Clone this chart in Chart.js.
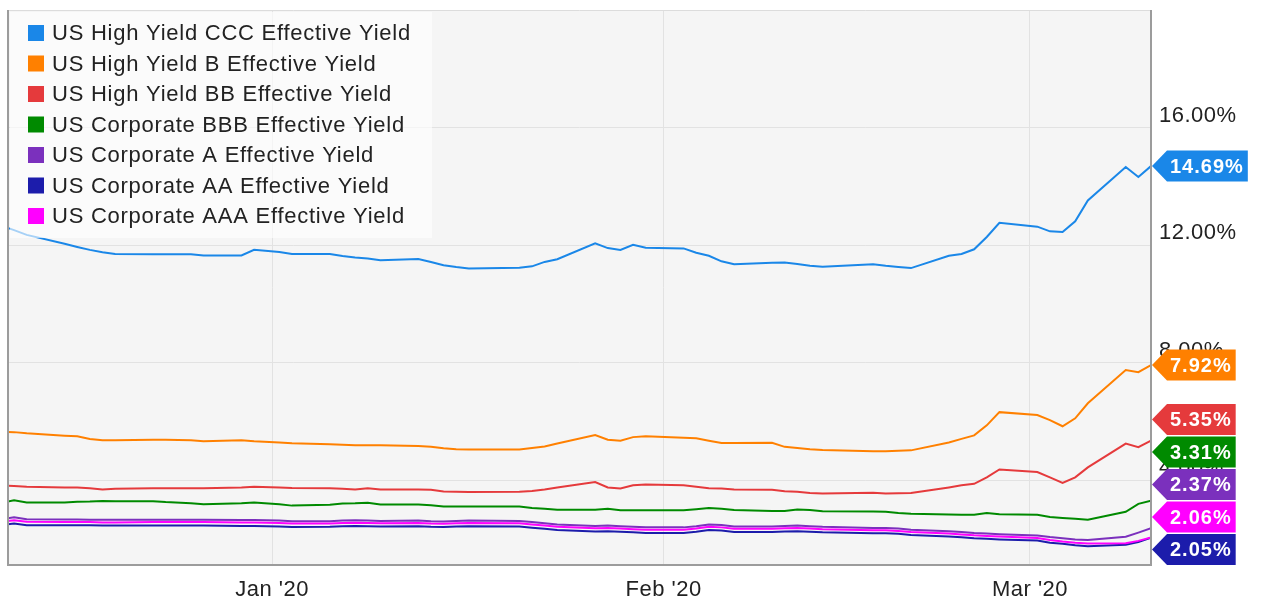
<!DOCTYPE html>
<html>
<head>
<meta charset="utf-8">
<title>US corporate bond effective yields</title>
<script src="https://cdn.jsdelivr.net/npm/chart.js@4.4.1/dist/chart.umd.min.js"></script>
<style>
  html, body { margin: 0; padding: 0; background: #fff; }
  #chart { display: block; }
</style>
</head>
<body>
<canvas id="chart" width="1267" height="615"></canvas>
<script>
// ===== Data =====
const dates = [
  '2019-12-11','2019-12-12','2019-12-13','2019-12-16','2019-12-17','2019-12-18','2019-12-19','2019-12-20',
  '2019-12-23','2019-12-24','2019-12-26','2019-12-27','2019-12-30','2019-12-31',
  '2020-01-02','2020-01-03','2020-01-06','2020-01-07','2020-01-08','2020-01-09','2020-01-10',
  '2020-01-13','2020-01-14','2020-01-15','2020-01-16','2020-01-17','2020-01-21','2020-01-22',
  '2020-01-23','2020-01-24','2020-01-27','2020-01-28','2020-01-29','2020-01-30','2020-01-31',
  '2020-02-03','2020-02-04','2020-02-05','2020-02-06','2020-02-07','2020-02-10','2020-02-11',
  '2020-02-12','2020-02-13','2020-02-14','2020-02-18','2020-02-19','2020-02-20','2020-02-21',
  '2020-02-24','2020-02-25','2020-02-26','2020-02-27','2020-02-28',
  '2020-03-02','2020-03-03','2020-03-04','2020-03-05','2020-03-06','2020-03-09','2020-03-10','2020-03-11'
];

const seriesNames = [
  'US High Yield CCC Effective Yield',
  'US High Yield B Effective Yield',
  'US High Yield BB Effective Yield',
  'US Corporate BBB Effective Yield',
  'US Corporate A Effective Yield',
  'US Corporate AA Effective Yield',
  'US Corporate AAA Effective Yield'
];
const seriesColors = ['#1a87e8', '#ff8000', '#e53a3c', '#008a00', '#7b30bd', '#1c1cab', '#ff00ff'];

const cccYield = [
  12.66, 12.51, 12.35, 12.05, 11.94, 11.84, 11.76, 11.70, 11.69, 11.69, 11.69, 11.65, 11.65, 11.84,
  11.77, 11.70, 11.70, 11.63, 11.58, 11.55, 11.49, 11.53, 11.43, 11.32, 11.26, 11.21, 11.23, 11.28,
  11.43, 11.52, 12.06, 11.90, 11.84, 12.01, 11.91,
  11.89, 11.74, 11.64, 11.45, 11.35, 11.40, 11.41, 11.36, 11.30, 11.27, 11.35, 11.30, 11.26, 11.22,
  11.64, 11.70, 11.86, 12.28, 12.76,
  12.63, 12.47, 12.45, 12.81, 13.52, 14.66, 14.32, 14.69
];
const bYield = [
  5.65, 5.64, 5.60, 5.52, 5.50, 5.41, 5.36, 5.36, 5.38, 5.38, 5.36, 5.33, 5.36, 5.33,
  5.29, 5.26, 5.23, 5.21, 5.19, 5.19, 5.19, 5.17, 5.14, 5.09, 5.06, 5.05, 5.05, 5.10,
  5.15, 5.25, 5.54, 5.38, 5.35, 5.47, 5.50,
  5.45, 5.43, 5.35, 5.27, 5.27, 5.28, 5.14, 5.10, 5.06, 5.03, 4.99, 4.99, 5.01, 5.02,
  5.29, 5.41, 5.53, 5.87, 6.32,
  6.22, 6.05, 5.84, 6.11, 6.62, 7.75, 7.68, 7.92
];
const bbYield = [
  3.83, 3.81, 3.78, 3.76, 3.76, 3.73, 3.69, 3.71, 3.73, 3.73, 3.73, 3.73, 3.76, 3.78,
  3.76, 3.74, 3.73, 3.71, 3.69, 3.73, 3.69, 3.69, 3.68, 3.62, 3.61, 3.60, 3.61, 3.64,
  3.69, 3.76, 3.94, 3.76, 3.72, 3.83, 3.86,
  3.83, 3.78, 3.73, 3.72, 3.69, 3.68, 3.63, 3.61, 3.57, 3.55, 3.58, 3.55, 3.56, 3.57,
  3.76, 3.83, 3.88, 4.10, 4.37,
  4.28, 4.10, 3.91, 4.10, 4.44, 5.25, 5.13, 5.35
];
const bbbYield = [
  3.23, 3.32, 3.25, 3.25, 3.27, 3.28, 3.30, 3.29, 3.29, 3.26, 3.22, 3.19, 3.22, 3.25,
  3.19, 3.14, 3.17, 3.21, 3.22, 3.24, 3.18, 3.18, 3.15, 3.11, 3.11, 3.11, 3.11, 3.06,
  3.03, 3.00, 3.00, 3.03, 2.98, 2.98, 2.98,
  2.98, 3.02, 3.06, 3.03, 2.99, 2.96, 2.96, 3.01, 2.99, 2.95, 2.94, 2.93, 2.89, 2.86,
  2.84, 2.83, 2.83, 2.89, 2.85,
  2.83, 2.75, 2.72, 2.69, 2.66, 2.93, 3.20, 3.31
];
const aYield = [
  2.68, 2.74, 2.68, 2.67, 2.67, 2.66, 2.66, 2.66, 2.66, 2.66, 2.66, 2.66, 2.65, 2.65,
  2.63, 2.61, 2.61, 2.63, 2.64, 2.63, 2.62, 2.63, 2.61, 2.60, 2.62, 2.63, 2.62, 2.58,
  2.54, 2.50, 2.45, 2.46, 2.44, 2.42, 2.40,
  2.40, 2.44, 2.50, 2.48, 2.43, 2.43, 2.45, 2.46, 2.44, 2.42, 2.38, 2.38, 2.36, 2.32,
  2.27, 2.24, 2.21, 2.19, 2.17,
  2.12, 2.07, 2.03, 1.99, 1.97, 2.08, 2.22, 2.37
];
const aaYield = [
  2.48, 2.53, 2.47, 2.47, 2.47, 2.47, 2.46, 2.46, 2.46, 2.46, 2.46, 2.46, 2.45, 2.45,
  2.43, 2.41, 2.42, 2.44, 2.45, 2.44, 2.43, 2.44, 2.42, 2.41, 2.43, 2.44, 2.43, 2.39,
  2.35, 2.31, 2.26, 2.27, 2.25, 2.23, 2.21,
  2.21, 2.25, 2.31, 2.29, 2.24, 2.24, 2.26, 2.27, 2.25, 2.23, 2.20, 2.20, 2.18, 2.14,
  2.09, 2.06, 2.03, 2.01, 1.99,
  1.95, 1.88, 1.84, 1.79, 1.76, 1.81, 1.90, 2.05
];
const aaaYield = [
  2.59, 2.64, 2.59, 2.58, 2.58, 2.58, 2.57, 2.57, 2.58, 2.58, 2.58, 2.58, 2.57, 2.57,
  2.55, 2.53, 2.53, 2.55, 2.56, 2.55, 2.54, 2.55, 2.53, 2.52, 2.54, 2.55, 2.54, 2.50,
  2.46, 2.42, 2.37, 2.38, 2.36, 2.34, 2.32,
  2.32, 2.36, 2.42, 2.40, 2.35, 2.35, 2.37, 2.38, 2.36, 2.34, 2.30, 2.30, 2.28, 2.24,
  2.19, 2.16, 2.13, 2.11, 2.09,
  2.04, 1.97, 1.92, 1.88, 1.85, 1.86, 1.94, 2.06
];

const tickDates  = ['2020-01-01', '2020-02-01', '2020-03-01'];
const tickLabels = ["Jan '20", "Feb '20", "Mar '20"];
const yTicks     = [4, 8, 12, 16];

// ===== Helpers =====
const fontFamily = "'Liberation Sans', Arial, Helvetica, sans-serif";
const origin = Date.UTC(2019, 11, 11);

function dayIndex(s) {
  const [y, m, d] = s.split('-').map(Number);
  return (Date.UTC(y, m - 1, d) - origin) / 86400000;
}

const allSeries = [cccYield, bYield, bbYield, bbbYield, aYield, aaYield, aaaYield];

const datasets = allSeries.map((vals, i) => ({
  label: seriesNames[i],
  data: dates.map((d, j) => ({ x: dayIndex(d), y: vals[j] })),
  borderColor: seriesColors[i],
  backgroundColor: seriesColors[i],
  borderWidth: 2,
  pointRadius: 0,
  tension: 0,
  order: allSeries.length - i
}));

// ===== Plugins =====
const plotFrame = {
  id: 'plotFrame',
  beforeDraw(chart) {
    const { ctx, chartArea: a } = chart;
    ctx.letterSpacing = '0.5px';
    ctx.save();
    ctx.fillStyle = '#f5f5f5';
    ctx.fillRect(a.left, a.top, a.right - a.left, a.bottom - a.top);
    ctx.restore();
  },
  afterDatasetsDraw(chart) {
    const { ctx, chartArea: a } = chart;
    ctx.save();
    ctx.strokeStyle = '#dcdcdc';
    ctx.lineWidth = 1;
    ctx.beginPath();
    ctx.moveTo(a.left, a.top + 0.5);
    ctx.lineTo(a.right, a.top + 0.5);
    ctx.stroke();
    ctx.strokeStyle = '#9c9c9c';
    ctx.lineWidth = 2;
    ctx.beginPath();
    ctx.moveTo(a.left, a.top);
    ctx.lineTo(a.left, a.bottom);
    ctx.lineTo(a.right, a.bottom);
    ctx.lineTo(a.right, a.top);
    ctx.stroke();

    // overlay legend
    ctx.fillStyle = 'rgba(255,255,255,0.62)';
    ctx.fillRect(a.left + 2, a.top + 2, 422, 226);
    ctx.font = `22px ${fontFamily}`;
    ctx.letterSpacing = '0.75px';
    ctx.textBaseline = 'middle';
    ctx.textAlign = 'left';
    chart.data.datasets.forEach((ds, i) => {
      const y = a.top + 23 + i * 30.5;
      ctx.fillStyle = ds.borderColor;
      ctx.fillRect(a.left + 20, y - 8, 16, 16);
      ctx.fillStyle = '#222';
      ctx.fillText(ds.label, a.left + 44, y + 1);
    });
    ctx.restore();
  }
};

const lastValueTags = {
  id: 'lastValueTags',
  afterDraw(chart) {
    const { ctx, chartArea: a, scales: { y } } = chart;
    const h = 31, step = 32.5, arrowW = 15;
    const tags = chart.data.datasets.map(ds => {
      const v = ds.data[ds.data.length - 1].y;
      return { v, y: y.getPixelForValue(v), color: ds.borderColor };
    }).sort((p, q) => p.y - q.y);
    for (let i = 1; i < tags.length; i++) {
      tags[i].y = Math.max(tags[i].y, tags[i - 1].y + step);
    }
    let limit = a.bottom - h / 2;
    for (let i = tags.length - 1; i >= 0; i--) {
      tags[i].y = Math.min(tags[i].y, limit);
      limit = tags[i].y - step;
    }
    ctx.save();
    ctx.font = `bold 20px ${fontFamily}`;
    ctx.letterSpacing = '1px';
    ctx.textBaseline = 'middle';
    ctx.textAlign = 'left';
    tags.forEach(t => {
      const label = t.v.toFixed(2) + '%';
      const tw = ctx.measureText(label).width;
      const x0 = a.right + 1, x1 = x0 + arrowW, x2 = x1 + tw + 7;
      ctx.fillStyle = t.color;
      ctx.beginPath();
      ctx.moveTo(x0, t.y);
      ctx.lineTo(x1, t.y - h / 2);
      ctx.lineTo(x2, t.y - h / 2);
      ctx.lineTo(x2, t.y + h / 2);
      ctx.lineTo(x1, t.y + h / 2);
      ctx.closePath();
      ctx.fill();
      ctx.fillStyle = '#fff';
      ctx.fillText(label, x1 + 3, t.y + 1);
    });
    ctx.restore();
  }
};

// ===== Chart =====
new Chart(document.getElementById('chart'), {
  type: 'line',
  data: { datasets },
  options: {
    responsive: false,
    animation: false,
    devicePixelRatio: 1,
    layout: { padding: { left: 8, top: 10, right: 0, bottom: 0 } },
    plugins: { legend: { display: false }, tooltip: { enabled: false } },
    scales: {
      x: {
        type: 'linear',
        min: 0.52,
        max: 91,
        afterBuildTicks: s => { s.ticks = tickDates.map(d => ({ value: dayIndex(d) + 0.42 })); },
        afterFit: s => { s.height = 50; s.paddingLeft = 0; s.paddingRight = 0; },
        grid: { color: '#e2e2e2', drawTicks: false },
        border: { display: false },
        ticks: {
          autoSkip: false,
          maxRotation: 0,
          padding: 12,
          color: '#222',
          font: { family: fontFamily, size: 22 },
          callback: (v, i) => tickLabels[i]
        }
      },
      y: {
        position: 'right',
        min: 1.12,
        max: 20,
        afterBuildTicks: s => { s.ticks = yTicks.map(v => ({ value: v })); },
        afterFit: s => { s.width = 116; s.paddingTop = 0; s.paddingBottom = 0; },
        grid: { color: '#e2e2e2', drawTicks: false },
        border: { display: false },
        ticks: {
          padding: 8,
          labelOffset: -12,
          color: '#222',
          font: { family: fontFamily, size: 22 },
          callback: v => v.toFixed(2) + '%'
        }
      }
    }
  },
  plugins: [plotFrame, lastValueTags]
});
</script>
</body>
</html>
